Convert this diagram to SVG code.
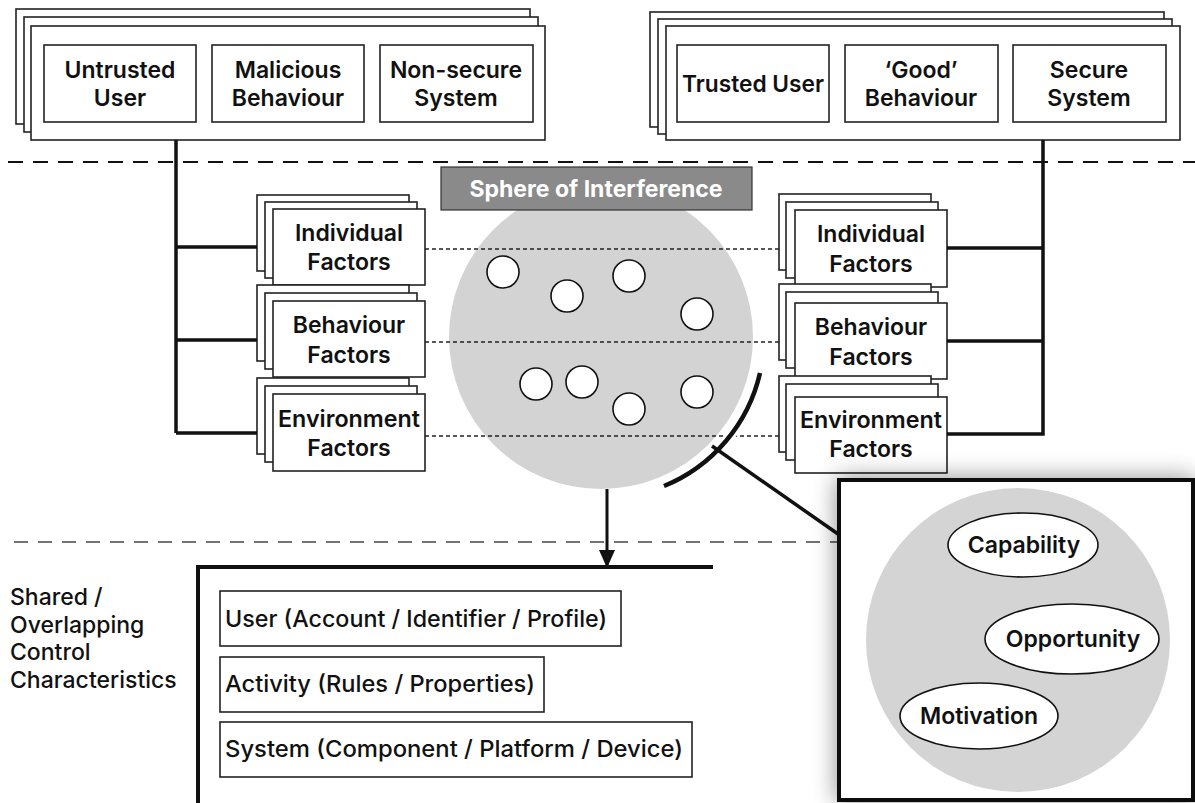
<svg xmlns="http://www.w3.org/2000/svg" width="1195" height="803" viewBox="0 0 1195 803">
<style>
text{font-family:Inter,"Liberation Sans",Arial,sans-serif;font-weight:500;fill:#111;}
.t{font-size:23px;text-anchor:middle;font-weight:600;}
.b{font-size:23px;}
.box{fill:#fff;stroke:#222;stroke-width:1.6;}
.thick{stroke:#111;stroke-width:3.5;fill:none;}
.dot{stroke:#222;stroke-width:1.6;stroke-dasharray:4 3;fill:none;}
.sm{fill:#fff;stroke:#111;stroke-width:1.6;}
.ell{fill:#fff;stroke:#111;stroke-width:1.6;}
</style>
<defs>
<filter id="sh" x="-20%" y="-20%" width="140%" height="140%">
<feGaussianBlur in="SourceAlpha" stdDeviation="12"/>
<feComponentTransfer><feFuncA type="linear" slope="0.45"/></feComponentTransfer>
<feMerge><feMergeNode/><feMergeNode in="SourceGraphic"/></feMerge>
</filter>
<marker id="ah" markerWidth="18" markerHeight="16" refX="17" refY="8" orient="auto" markerUnits="userSpaceOnUse" viewBox="0 0 18 16">
<path d="M0,0 L18,8 L0,16 Z" fill="#111"/>
</marker>
</defs>
<rect width="1195" height="803" fill="#fff"/>

<!-- dashed separators -->
<line x1="8" y1="162" x2="1195" y2="162" stroke="#111" stroke-width="2" stroke-dasharray="15 10"/>
<line x1="14" y1="542" x2="838" y2="542" stroke="#444" stroke-width="1.6" stroke-dasharray="14 10"/>

<!-- top left stack -->
<g id="threats">
<rect class="box" x="16" y="9" width="514" height="115"/>
<rect class="box" x="24" y="17" width="514" height="115"/>
<rect class="box" x="31" y="26" width="514" height="114"/>
<rect class="box" x="44" y="45" width="152" height="77"/>
<rect class="box" x="212" y="45" width="152" height="77"/>
<rect class="box" x="380" y="45" width="153" height="77"/>
<text class="t" x="120" y="78">Untrusted</text><text class="t" x="120" y="106">User</text>
<text class="t" x="288" y="78">Malicious</text><text class="t" x="288" y="106">Behaviour</text>
<text class="t" x="456" y="78">Non-secure</text><text class="t" x="456" y="106">System</text>
</g>

<!-- top right stack -->
<g id="trusted">
<rect class="box" x="650" y="12" width="514" height="115"/>
<rect class="box" x="658" y="19" width="514" height="115"/>
<rect class="box" x="666" y="26" width="514" height="114"/>
<rect class="box" x="677" y="45" width="152" height="77"/>
<rect class="box" x="845" y="45" width="153" height="77"/>
<rect class="box" x="1013" y="45" width="153" height="77"/>
<text class="t" x="753" y="92" textLength="142" lengthAdjust="spacingAndGlyphs">Trusted User</text>
<text class="t" x="921" y="78">‘Good’</text><text class="t" x="921" y="106">Behaviour</text>
<text class="t" x="1089" y="78">Secure</text><text class="t" x="1089" y="106">System</text>
</g>

<!-- sphere -->
<g id="sphere">
<circle cx="601" cy="337" r="152" fill="#d3d3d3"/>
<circle class="sm" cx="503" cy="272" r="16"/>
<circle class="sm" cx="567" cy="296" r="16"/>
<circle class="sm" cx="629" cy="276" r="16"/>
<circle class="sm" cx="697" cy="314" r="16"/>
<circle class="sm" cx="536" cy="384" r="16"/>
<circle class="sm" cx="582" cy="382" r="16"/>
<circle class="sm" cx="629" cy="409" r="16"/>
<circle class="sm" cx="697" cy="392" r="16"/>
</g>
<g id="sphere-label">
<rect x="441" y="167" width="311" height="43" fill="#8a8a8a" stroke="#333" stroke-width="1.2"/>
<text x="596" y="197" text-anchor="middle" style="font-size:23px;font-weight:700;fill:#fff">Sphere of Interference</text>
</g>

<!-- left factors -->
<g id="left-individual">
<rect class="box" x="257" y="195" width="152" height="76"/>
<rect class="box" x="265" y="202" width="152" height="76"/>
<rect class="box" x="273" y="209" width="152" height="76"/>
<text class="t" x="349" y="241">Individual</text><text class="t" x="349" y="270">Factors</text>
</g>
<g id="left-behaviour">
<rect class="box" x="257" y="285" width="152" height="76"/>
<rect class="box" x="265" y="293" width="152" height="76"/>
<rect class="box" x="273" y="301" width="152" height="76"/>
<text class="t" x="349" y="333">Behaviour</text><text class="t" x="349" y="363">Factors</text>
</g>
<g id="left-environment">
<rect class="box" x="257" y="378" width="152" height="76"/>
<rect class="box" x="265" y="386" width="152" height="76"/>
<rect class="box" x="273" y="394" width="152" height="77"/>
<text class="t" x="349" y="427" textLength="142" lengthAdjust="spacingAndGlyphs">Environment</text><text class="t" x="349" y="456">Factors</text>
</g>

<!-- right factors -->
<g id="right-individual">
<rect class="box" x="779" y="194" width="152" height="76"/>
<rect class="box" x="786" y="202" width="152" height="76"/>
<rect class="box" x="795" y="210" width="152" height="77"/>
<text class="t" x="871" y="242">Individual</text><text class="t" x="871" y="272">Factors</text>
</g>
<g id="right-behaviour">
<rect class="box" x="779" y="284" width="152" height="76"/>
<rect class="box" x="786" y="292" width="152" height="76"/>
<rect class="box" x="795" y="303" width="152" height="76"/>
<text class="t" x="871" y="335">Behaviour</text><text class="t" x="871" y="365">Factors</text>
</g>
<g id="right-environment">
<rect class="box" x="779" y="376" width="152" height="76"/>
<rect class="box" x="786" y="384" width="152" height="76"/>
<rect class="box" x="795" y="397" width="152" height="76"/>
<text class="t" x="871" y="428" textLength="142" lengthAdjust="spacingAndGlyphs">Environment</text><text class="t" x="871" y="457">Factors</text>
</g>

<!-- connectors -->
<g id="connectors">
<path class="thick" d="M176,140 V433 M176,247 H257 M176,340 H257 M176,433 H257"/>
<path class="thick" d="M1043,140 V434 H947 M1043,248 H947 M1043,341 H947"/>
<line class="dot" x1="425" y1="249" x2="779" y2="249"/>
<line class="dot" x1="425" y1="342" x2="779" y2="342"/>
<line class="dot" x1="425" y1="436" x2="779" y2="436"/>
<path d="M760,373 A161,161 0 0,1 664,486" fill="none" stroke="#fff" stroke-width="10"/>
<path d="M760,373 A161,161 0 0,1 664,486" fill="none" stroke="#111" stroke-width="4.5"/>
<line x1="712" y1="446" x2="838" y2="534" stroke="#111" stroke-width="3.5"/>
<line x1="607" y1="489" x2="607" y2="567" stroke="#111" stroke-width="3" marker-end="url(#ah)"/>
</g>

<!-- shared characteristics -->
<g id="shared-label">
<text class="b" x="10" y="605">Shared /</text>
<text class="b" x="10" y="633">Overlapping</text>
<text class="b" x="10" y="660">Control</text>
<text class="b" x="10" y="688">Characteristics</text>
</g>
<g id="shared-box">
<path d="M198,803 V567 H713" fill="none" stroke="#111" stroke-width="4"/>
<rect class="box" x="220" y="591" width="401" height="55"/>
<rect class="box" x="220" y="657" width="324" height="55"/>
<rect class="box" x="220" y="722" width="472" height="55"/>
<text class="b" x="225" y="627" textLength="382" lengthAdjust="spacingAndGlyphs">User (Account / Identifier / Profile)</text>
<text class="b" x="225" y="692" textLength="310" lengthAdjust="spacingAndGlyphs">Activity (Rules / Properties)</text>
<text class="b" x="225" y="757" textLength="458" lengthAdjust="spacingAndGlyphs">System (Component / Platform / Device)</text>
</g>

<!-- zoom box -->
<g id="detail">
<rect x="839" y="480" width="354" height="320" fill="#fff" stroke="#111" stroke-width="4" filter="url(#sh)"/>
<circle cx="1018" cy="640" r="152" fill="#d4d4d4"/>
<ellipse class="ell" cx="1023" cy="545" rx="75" ry="32"/>
<ellipse class="ell" cx="1072" cy="639" rx="87" ry="35"/>
<ellipse class="ell" cx="979" cy="716" rx="79" ry="33"/>
<text class="t" x="1024" y="553">Capability</text>
<text class="t" x="1073" y="647">Opportunity</text>
<text class="t" x="979" y="724">Motivation</text>
</g>
</svg>
